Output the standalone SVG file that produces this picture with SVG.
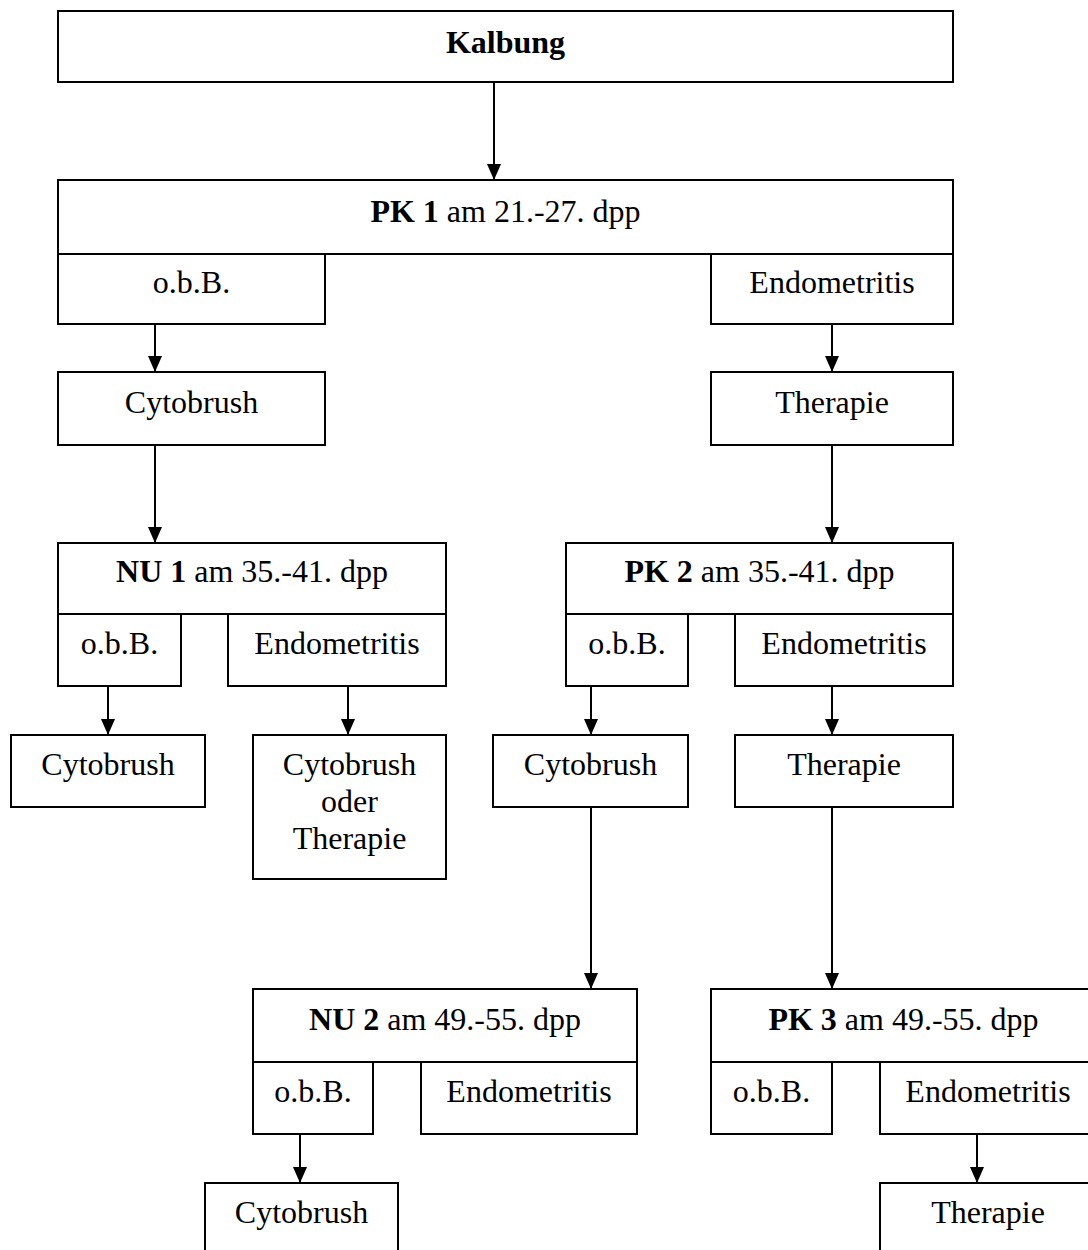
<svg xmlns="http://www.w3.org/2000/svg" width="1088" height="1250" viewBox="0 0 1088 1250">
<style>
rect{fill:#fff;stroke:#000;stroke-width:2}
text{font-family:"Liberation Serif","Times New Roman",serif;font-size:32px;fill:#000;text-anchor:middle}
.b{font-weight:bold}
.c{stroke:#000;stroke-width:2;fill:none}
</style>
<defs>
<marker id="ah" viewBox="0 0 16 14" refX="16" refY="7" markerWidth="16" markerHeight="14" markerUnits="userSpaceOnUse" orient="auto">
<path d="M0,0 L16,7 L0,14 Z" fill="#000"/>
</marker>
</defs>
<rect width="1088" height="1250" style="fill:#fff;stroke:none"/>
<g id="connectors">
<line class="c" x1="494" y1="82" x2="494" y2="180" marker-end="url(#ah)"/>
<line class="c" x1="155" y1="324" x2="155" y2="372" marker-end="url(#ah)"/>
<line class="c" x1="832" y1="324" x2="832" y2="372" marker-end="url(#ah)"/>
<line class="c" x1="155" y1="445" x2="155" y2="543" marker-end="url(#ah)"/>
<line class="c" x1="832" y1="445" x2="832" y2="543" marker-end="url(#ah)"/>
<line class="c" x1="108" y1="686" x2="108" y2="735" marker-end="url(#ah)"/>
<line class="c" x1="348" y1="686" x2="348" y2="735" marker-end="url(#ah)"/>
<line class="c" x1="591" y1="686" x2="591" y2="735" marker-end="url(#ah)"/>
<line class="c" x1="832" y1="686" x2="832" y2="735" marker-end="url(#ah)"/>
<line class="c" x1="591" y1="807" x2="591" y2="989" marker-end="url(#ah)"/>
<line class="c" x1="832" y1="807" x2="832" y2="989" marker-end="url(#ah)"/>
<line class="c" x1="300" y1="1134" x2="300" y2="1183" marker-end="url(#ah)"/>
<line class="c" x1="977" y1="1134" x2="977" y2="1183" marker-end="url(#ah)"/>
</g>
<g id="kalbung"><rect x="58" y="11" width="895" height="71"/><text x="505.5" y="53" class="b">Kalbung</text></g>
<g id="pk1"><rect x="58" y="180" width="895" height="74"/><text x="505.5" y="222"><tspan class="b">PK 1</tspan> am 21.-27. dpp</text></g>
<g id="pk1-obb"><rect x="58" y="254" width="267" height="70"/><text x="191.5" y="293">o.b.B.</text></g>
<g id="pk1-endo"><rect x="711" y="254" width="242" height="70"/><text x="832" y="293">Endometritis</text></g>
<g id="cyto1"><rect x="58" y="372" width="267" height="73"/><text x="191.5" y="413">Cytobrush</text></g>
<g id="ther1"><rect x="711" y="372" width="242" height="73"/><text x="832" y="413">Therapie</text></g>
<g id="nu1"><rect x="58" y="543" width="388" height="71"/><text x="252" y="582"><tspan class="b">NU 1</tspan> am 35.-41. dpp</text></g>
<g id="nu1-obb"><rect x="58" y="614" width="123" height="72"/><text x="119.5" y="654">o.b.B.</text></g>
<g id="nu1-endo"><rect x="228" y="614" width="218" height="72"/><text x="337" y="654">Endometritis</text></g>
<g id="pk2"><rect x="566" y="543" width="387" height="71"/><text x="759.5" y="582"><tspan class="b">PK 2</tspan> am 35.-41. dpp</text></g>
<g id="pk2-obb"><rect x="566" y="614" width="122" height="72"/><text x="627" y="654">o.b.B.</text></g>
<g id="pk2-endo"><rect x="735" y="614" width="218" height="72"/><text x="844" y="654">Endometritis</text></g>
<g id="cyto2"><rect x="11" y="735" width="194" height="72"/><text x="108" y="775">Cytobrush</text></g>
<g id="cyto-oder-ther"><rect x="253" y="735" width="193" height="144"/><text x="349.5" y="775">Cytobrush</text><text x="349.5" y="812">oder</text><text x="349.5" y="849">Therapie</text></g>
<g id="cyto3"><rect x="493" y="735" width="195" height="72"/><text x="590.5" y="775">Cytobrush</text></g>
<g id="ther2"><rect x="735" y="735" width="218" height="72"/><text x="844" y="775">Therapie</text></g>
<g id="nu2"><rect x="253" y="989" width="384" height="73"/><text x="445" y="1030"><tspan class="b">NU 2</tspan> am 49.-55. dpp</text></g>
<g id="nu2-obb"><rect x="253" y="1062" width="120" height="72"/><text x="313" y="1102">o.b.B.</text></g>
<g id="nu2-endo"><rect x="421" y="1062" width="216" height="72"/><text x="529" y="1102">Endometritis</text></g>
<g id="pk3"><rect x="711" y="989" width="385" height="73"/><text x="903.5" y="1030"><tspan class="b">PK 3</tspan> am 49.-55. dpp</text></g>
<g id="pk3-obb"><rect x="711" y="1062" width="121" height="72"/><text x="771.5" y="1102">o.b.B.</text></g>
<g id="pk3-endo"><rect x="880" y="1062" width="216" height="72"/><text x="988" y="1102">Endometritis</text></g>
<g id="cyto4"><rect x="205" y="1183" width="193" height="80"/><text x="301.5" y="1223">Cytobrush</text></g>
<g id="ther3"><rect x="880" y="1183" width="216" height="80"/><text x="988" y="1223">Therapie</text></g>
</svg>
